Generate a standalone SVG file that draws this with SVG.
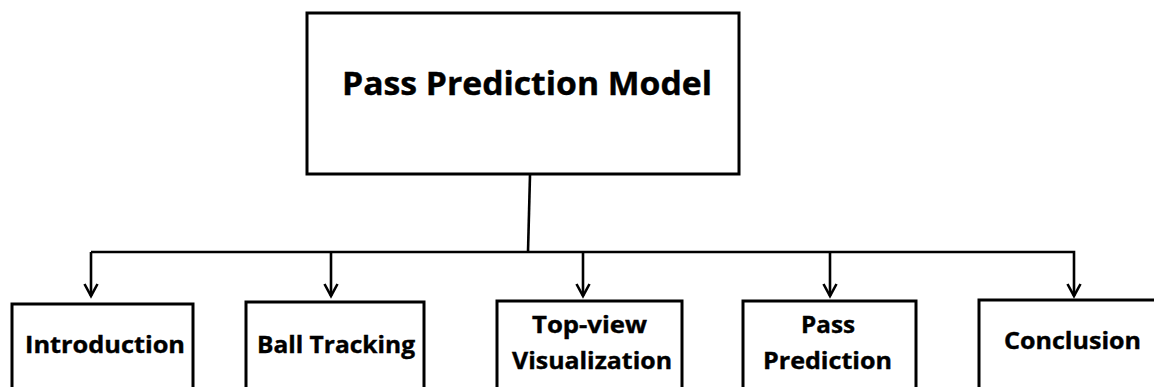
<svg xmlns="http://www.w3.org/2000/svg" width="1154" height="387" viewBox="0 0 1154 387">
  <style>
    .box { fill: #ffffff; stroke: #000000; stroke-width: 3; }
    .wire { fill: none; stroke: #000000; stroke-width: 2.6; }
    .label { font-family: "Open Sans", "Liberation Sans", Arial, sans-serif; font-weight: 700; fill: #000000; stroke: #000000; stroke-width: 0.4; }
    .big { font-size: 32px; }
    .small { font-size: 24px; }
  </style>
  <defs>
    <marker id="arrow" markerUnits="userSpaceOnUse" markerWidth="18" markerHeight="18" viewBox="-14 -9 18 18" refX="0" refY="0" orient="auto">
      <path d="M-12,-6.5 L0,0 L-12,6.5" fill="none" stroke="#000000" stroke-width="2.6" stroke-linejoin="miter"/>
    </marker>
  </defs>

  <rect width="1154" height="387" fill="#ffffff"/>

  <!-- connectors: trunk, bus and the five drops -->
  <g id="connectors">
    <path class="wire" d="M530,175 L528,252"/>
    <path class="wire" d="M91,252 L1074,252 L1074,296" marker-end="url(#arrow)"/>
    <path class="wire" d="M91,252 L91,296" marker-end="url(#arrow)"/>
    <path class="wire" d="M331,252 L331,296" marker-end="url(#arrow)"/>
    <path class="wire" d="M583,252 L583,296" marker-end="url(#arrow)"/>
    <path class="wire" d="M830,252 L830,296" marker-end="url(#arrow)"/>
  </g>

  <!-- root node -->
  <g id="node-model">
    <rect class="box" x="307" y="13" width="432" height="161"/>
    <text class="label big" x="342" y="95" textLength="370" lengthAdjust="spacingAndGlyphs">Pass Prediction Model</text>
  </g>

  <!-- child nodes (bottom edges run off the canvas) -->
  <g id="node-introduction">
    <rect class="box" x="12" y="304" width="181" height="110"/>
    <text class="label small" x="25" y="353" textLength="160" lengthAdjust="spacingAndGlyphs">Introduction</text>
  </g>

  <g id="node-ball-tracking">
    <rect class="box" x="246" y="302" width="178" height="110"/>
    <text class="label small" x="257" y="353" textLength="158" lengthAdjust="spacingAndGlyphs">Ball Tracking</text>
  </g>

  <g id="node-top-view">
    <rect class="box" x="497" y="301" width="185" height="110"/>
    <text class="label small" x="532" y="333" textLength="115" lengthAdjust="spacingAndGlyphs">Top-view</text>
    <text class="label small" x="512" y="369" textLength="160" lengthAdjust="spacingAndGlyphs">Visualization</text>
  </g>

  <g id="node-pass-prediction">
    <rect class="box" x="743" y="301" width="173" height="110"/>
    <text class="label small" x="801" y="333" textLength="54" lengthAdjust="spacingAndGlyphs">Pass</text>
    <text class="label small" x="763" y="369" textLength="129" lengthAdjust="spacingAndGlyphs">Prediction</text>
  </g>

  <g id="node-conclusion">
    <rect class="box" x="979" y="300" width="200" height="110"/>
    <text class="label small" x="1004" y="349" textLength="137" lengthAdjust="spacingAndGlyphs">Conclusion</text>
  </g>
</svg>
